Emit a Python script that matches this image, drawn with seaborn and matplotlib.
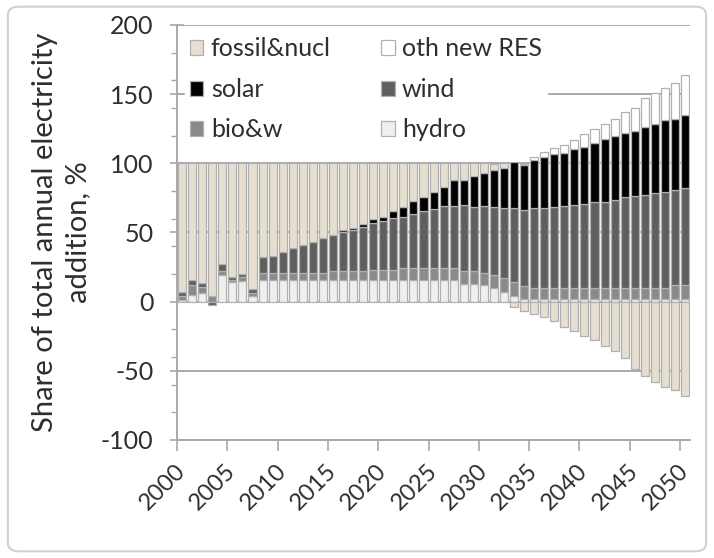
import matplotlib
matplotlib.use('Agg')
import matplotlib.pyplot as plt
from matplotlib.patches import Patch, FancyBboxPatch
from matplotlib.ticker import MultipleLocator, FixedLocator
import seaborn as sns
import numpy as np

# ---- data (% of annual addition) ----
years = list(range(2000, 2051))

hydro = [1, 5, 6.5, 0, 19, 14, 15, 4,
         16, 16, 16, 16, 16, 16, 16, 16, 16, 16, 16, 16,
         16, 16, 16, 16, 16, 16, 16, 16,
         13, 13, 12, 10, 7, 4, 2,
         2, 2, 2, 2, 2, 2, 2, 2, 2, 2, 2, 2, 2, 2, 2, 2]

bio_w = [3, 7, 4, 4, 3, 2, 3, 2,
         5, 5, 5, 5, 5, 5, 5,
         6, 6, 6, 6,
         7, 7, 7,
         8, 8, 8, 8, 8, 8,
         9, 9, 9, 9,
         10, 10, 9,
         8, 8, 8, 8, 8, 8, 8, 8, 8, 8, 8, 8, 8, 8,
         10, 10]

wind = [3, 4, 3, -2.5, 5, 2, 2, 3, 11, 12,
        15, 18, 20, 22, 25, 26, 28.5, 30, 32, 33.5,
        35, 37.5, 37.5, 39.5, 41.5, 43, 45, 45, 48, 46.5,
        48, 49.5, 51, 54, 55.5, 57.5, 57.5, 58.5, 59, 60,
        60.5, 62, 62, 63.5, 66, 66.5, 67, 68.5, 69.5, 69, 70.5]

solar = [0, 0, 0, 0, 0, 0, 0, 0, 0, 0, 0, 0, 0, 0, 0, 0,
         1, 1.5, 2, 3, 3.5, 5, 7, 9, 10, 12,
         14, 19, 18, 22, 24, 27, 28.5, 33, 32, 35,
         37, 38, 38.7, 40, 41.5, 42.6, 45.5, 46.5, 46, 47.2,
         49.2, 50, 51.6, 51.3, 52.3]

oth_new_res = [0] * 34 + [1, 2, 4, 4.7, 5.4, 7, 9.2, 10.4, 11.1, 12.3,
                          14.8, 16.5, 20.9, 22.2, 23.4, 26, 28.9]

fossil_nucl = [93, 84, 86.5, 96, 73, 82, 80, 91, 68, 67,
               64, 61, 59, 57, 54, 52, 48.5, 46.5, 44, 40.5,
               38.5, 34.5, 31.5, 27.5, 24.5, 21, 17, 12, 12, 9.5,
               7, 4, 3.5, -4, -7, -9, -11, -14, -18, -21,
               -25, -28, -32, -36, -41, -49, -54, -58, -62, -64, -68]

# stacking order bottom -> top
series = [
    ('hydro', hydro, '#efefef'),
    ('bio&w', bio_w, '#8a8a8a'),
    ('wind', wind, '#5f5f5f'),
    ('solar', solar, '#000000'),
    ('oth new RES', oth_new_res, '#ffffff'),
    ('fossil&nucl', fossil_nucl, '#e6dfd1'),
]
colors = {name: c for name, _, c in series}

sns.set_theme(style='white')
plt.rcParams['font.family'] = ['Lato', 'DejaVu Sans']
plt.rcParams['axes.unicode_minus'] = False
text_color = '#2e2e2e'
line_gray = '#a9a9a9'

fig = plt.figure(figsize=(7.14, 5.58), dpi=100)
ax = fig.add_axes([0.248, 0.2115, 0.7185, 0.7437])

x = np.arange(len(years))
pos_base = np.zeros(len(years))
neg_base = np.zeros(len(years))
for name, vals, color in series:
    v = np.asarray(vals, dtype=float)
    bottom = np.where(v >= 0, pos_base, neg_base)
    keep = v != 0
    ax.bar(x[keep], v[keep], bottom=bottom[keep], width=0.8, color=color,
           edgecolor='#b0b0b0', linewidth=0.9, zorder=3)
    pos_base += np.clip(v, 0, None)
    neg_base += np.clip(v, None, 0)

# axes, ticks, grid
ax.set_xlim(-0.5, len(years) - 0.5)
ax.set_ylim(-100, 200)
ax.yaxis.set_major_locator(MultipleLocator(50))
ax.yaxis.set_minor_locator(MultipleLocator(20))
ax.yaxis.grid(True, which='major', color=line_gray, linewidth=1.4, zorder=0)
ax.set_axisbelow(True)

ax.set_xticks(x[::5])
ax.set_xticklabels([str(y) for y in years[::5]], rotation=45, ha='right',
                   va='center', rotation_mode='anchor')
ax.xaxis.set_minor_locator(FixedLocator(np.arange(-0.5, len(years) - 1, 5)))
ax.tick_params(axis='x', which='major', length=0, pad=20, labelsize=17,
               labelcolor=text_color)
ax.tick_params(axis='x', which='minor', bottom=True, direction='out',
               length=8, width=1.2, color=line_gray)
ax.tick_params(axis='y', which='major', left=True, direction='inout',
               length=10, width=1.2, color=line_gray, pad=12, labelsize=18,
               labelcolor=text_color)
ax.tick_params(axis='y', which='minor', left=True, direction='out',
               length=4, width=1.0, color=line_gray)

for side in ('top', 'right'):
    ax.spines[side].set_visible(False)
for side in ('left', 'bottom'):
    ax.spines[side].set_color(line_gray)
    ax.spines[side].set_linewidth(1.4)

ax.set_ylabel('Share of total annual electricity\naddition, %', fontsize=21,
              color=text_color, linespacing=1.35)
ax.yaxis.set_label_coords(-0.168, 0.5)

# legend, row-wise: fossil/oth, solar/wind, bio/hydro
legend_order = ['fossil&nucl', 'solar', 'bio&w', 'oth new RES', 'wind', 'hydro']
handles = [Patch(facecolor=colors[n], edgecolor='#b0b0b0', linewidth=0.9)
           for n in legend_order]
leg = ax.legend(handles, legend_order, ncol=2, loc='upper left',
                bbox_to_anchor=(0.0, 1.0), fontsize=18, frameon=True,
                framealpha=1, facecolor='white', edgecolor='white',
                handlelength=0.55, handleheight=0.55, handletextpad=0.3,
                columnspacing=2.0, labelspacing=0.7, borderpad=0.2,
                borderaxespad=0.3)
for t in leg.get_texts():
    t.set_color(text_color)
leg.set_zorder(6)

# chart area border
fig.patches.append(FancyBboxPatch((0.011, 0.012), 0.978, 0.976,
                                  boxstyle='round,pad=0,rounding_size=0.015',
                                  transform=fig.transFigure, fill=False,
                                  edgecolor='#d0d0d0', linewidth=1.5))

fig.savefig('out.png', dpi=100)
